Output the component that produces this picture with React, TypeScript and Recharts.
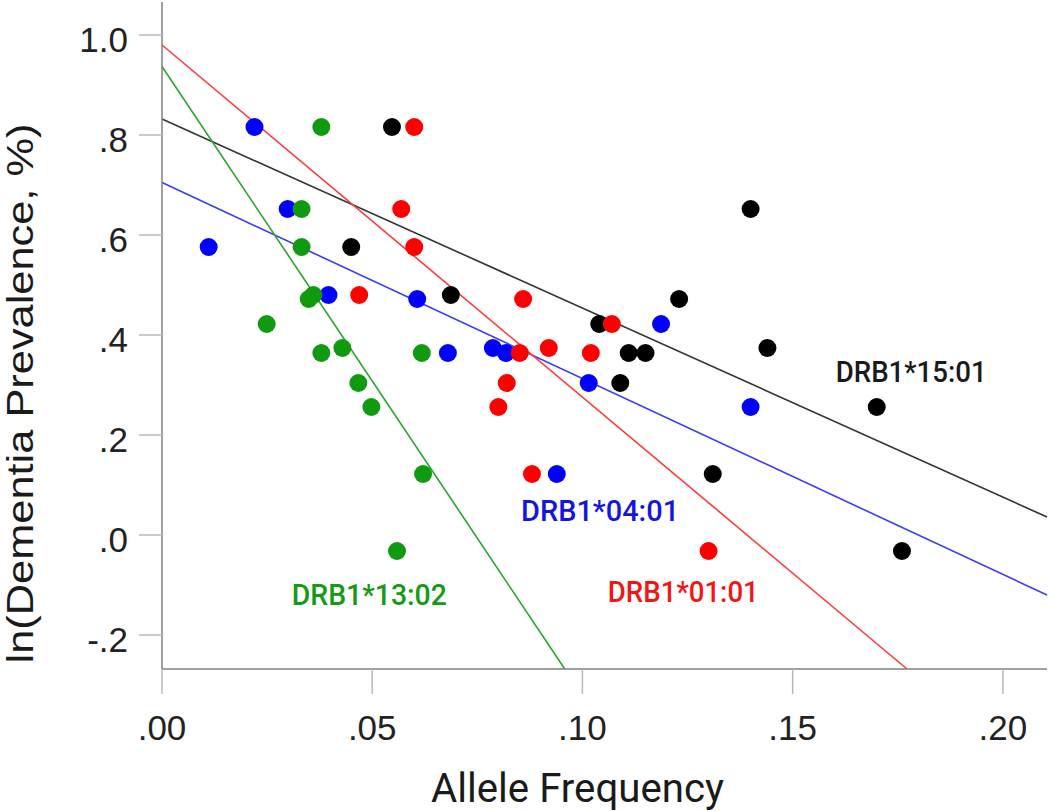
import React from 'react';
import { ScatterChart, Scatter, XAxis, YAxis, ReferenceLine, ReferenceDot } from 'recharts';

// ln(dementia prevalence, %) for each population (rows)
const lnPrevalence = [0.816, 0.652, 0.576, 0.48, 0.472, 0.422, 0.374, 0.364, 0.364, 0.304, 0.256, 0.122, -0.032];

// allele frequencies per population
const freqDRB1_1501 = [0.0547, 0.14, 0.045, 0.0687, 0.123, 0.104, 0.144, 0.111, 0.115, 0.109, 0.17, 0.131, 0.176];
const freqDRB1_0401 = [0.022, 0.0299, 0.0111, 0.0396, 0.0607, 0.1187, 0.0787, 0.068, 0.0818, 0.1015, 0.14, 0.0939, null];
const freqDRB1_1302 = [0.0379, 0.0332, 0.0332, 0.036, 0.0349, 0.0249, 0.0429, 0.0379, 0.0618, 0.0467, 0.0498, 0.0621, 0.0559];
const freqDRB1_0101 = [0.06, 0.0569, 0.06, 0.0469, 0.0859, 0.107, 0.092, 0.0851, 0.102, 0.082, 0.08, 0.088, 0.13];

// fitted regression lines: [x0, y0, x1, y1]
const fit1501 = [0, 0.832, 0.2105, 0.036];
const fit0401 = [0, 0.705, 0.2105, -0.12];
const fit1302 = [0, 0.937, 0.0958, -0.268];
const fit0101 = [0, 0.98, 0.1772, -0.268];

// annotation anchors (data units): label, x, y
const labels1501 = ['DRB1*15:01', 0.1782, 0.306];
const labels0401 = ['DRB1*04:01', 0.1042, 0.028];
const labels1302 = ['DRB1*13:02', 0.0493, -0.14];
const labels0101 = ['DRB1*01:01', 0.124, -0.134];

const xTicks = [0, 0.05, 0.1, 0.15, 0.2];
const yTicks = [-0.2, 0, 0.2, 0.4, 0.6, 0.8, 1.0];

const toPoints = (freqs: (number | null)[]) =>
  freqs
    .map((f, i) => (f === null ? null : { x: f, y: lnPrevalence[i] }))
    .filter((p) => p !== null) as { x: number; y: number }[];

const fmtX = (v: number) => v.toFixed(2).replace(/^(-?)0\./, '$1.');
const fmtY = (v: number) => v.toFixed(1).replace(/^(-?)0\./, '$1.');

const COLORS = {
  black: '#000000',
  blue: '#0000ff',
  green: '#109a10',
  red: '#ff0000',
};

const dotShape = (color: string) => (props: any) =>
  <circle cx={props.cx} cy={props.cy} r={9} fill={color} />;

const labelContent = (text: string, color: string, width: number) => (props: any) => {
  const vb = props.viewBox || {};
  const cx = vb.cx !== undefined ? vb.cx : vb.x + (vb.width || 0) / 2;
  const cy = vb.cy !== undefined ? vb.cy : vb.y + (vb.height || 0) / 2;
  return (
    <text
      x={cx}
      y={cy}
      textAnchor="middle"
      fill={color}
      fontFamily="Roboto, sans-serif"
      fontWeight={500}
      fontSize={30}
      textLength={width}
      lengthAdjust="spacingAndGlyphs"
    >
      {text}
    </text>
  );
};

const tickStyle = { fontFamily: '"Liberation Sans", Arial, sans-serif', fontSize: 35, fill: '#222' };

export default function App() {
  const lines: [number[], string][] = [
    [fit1501, '#333333'],
    [fit0401, '#3a3aff'],
    [fit1302, '#2aa52a'],
    [fit0101, '#ff3a3a'],
  ];
  const anns: [any[], string, number][] = [
    [labels1501, '#1a1a1a', 151],
    [labels0401, '#1414e6', 158],
    [labels1302, '#159a15', 155],
    [labels0101, '#f41414', 151],
  ];
  return (
    <div style={{ position: 'absolute', left: 0, top: 0, width: 1050, height: 811, background: '#fff' }}>
      <ScatterChart width={1050} height={811} margin={{ top: 2, right: 3, bottom: 0, left: 0 }}>
        <XAxis
          type="number"
          dataKey="x"
          domain={[0, 0.2105]}
          allowDataOverflow
          ticks={xTicks}
          tickFormatter={fmtX}
          height={142}
          tickSize={25}
          tickMargin={21}
          tick={tickStyle}
          axisLine={{ stroke: '#808080', strokeWidth: 1.5 }}
          tickLine={{ stroke: '#b8b8b8', strokeWidth: 1.5 }}
          label={{
            content: (p: any) => {
              const vb = p.viewBox;
              return (
                <text
                  x={vb.x + vb.width / 2 - 27}
                  y={vb.y + 133}
                  textAnchor="middle"
                  fill="#1a1a1a"
                  fontFamily="Roboto, sans-serif"
                  fontWeight={400}
                  fontSize={40}
                  textLength={293}
                  lengthAdjust="spacingAndGlyphs"
                >
                  Allele Frequency
                </text>
              );
            },
          }}
        />
        <YAxis
          type="number"
          dataKey="y"
          domain={[-0.268, 1.066]}
          allowDataOverflow
          ticks={yTicks}
          tickFormatter={fmtY}
          width={162}
          tickSize={23}
          tickMargin={11}
          tick={{ ...tickStyle, dy: 5 }}
          axisLine={{ stroke: '#808080', strokeWidth: 1.5 }}
          tickLine={{ stroke: '#b8b8b8', strokeWidth: 1.5 }}
          label={{
            content: (p: any) => {
              const vb = p.viewBox;
              const x = vb.x + 33;
              const y = vb.y + vb.height / 2 + 58;
              return (
                <text
                  x={x}
                  y={y}
                  transform={`rotate(-90, ${x}, ${y})`}
                  textAnchor="middle"
                  fill="#1a1a1a"
                  fontFamily='"Liberation Sans", Arial, sans-serif'
                  fontSize={36}
                  textLength={540}
                  lengthAdjust="spacingAndGlyphs"
                >
                  ln(Dementia Prevalence, %)
                </text>
              );
            },
          }}
        />
        <Scatter data={toPoints(freqDRB1_1501)} isAnimationActive={false} shape={dotShape(COLORS.black)} />
        <Scatter data={toPoints(freqDRB1_0401)} isAnimationActive={false} shape={dotShape(COLORS.blue)} />
        <Scatter data={toPoints(freqDRB1_1302)} isAnimationActive={false} shape={dotShape(COLORS.green)} />
        <Scatter data={toPoints(freqDRB1_0101)} isAnimationActive={false} shape={dotShape(COLORS.red)} />
        {lines.map(([f, c], i) => (
          <ReferenceLine
            key={'l' + i}
            segment={[{ x: f[0], y: f[1] }, { x: f[2], y: f[3] }]}
            stroke={c}
            strokeWidth={1.6}
            ifOverflow="visible"
          />
        ))}
        {anns.map(([a, c, w], i) => (
          <ReferenceDot
            key={'a' + i}
            x={a[1]}
            y={a[2]}
            r={0}
            fill="none"
            stroke="none"
            ifOverflow="visible"
            label={{ content: labelContent(a[0], c, w) }}
          />
        ))}
      </ScatterChart>
    </div>
  );
}
